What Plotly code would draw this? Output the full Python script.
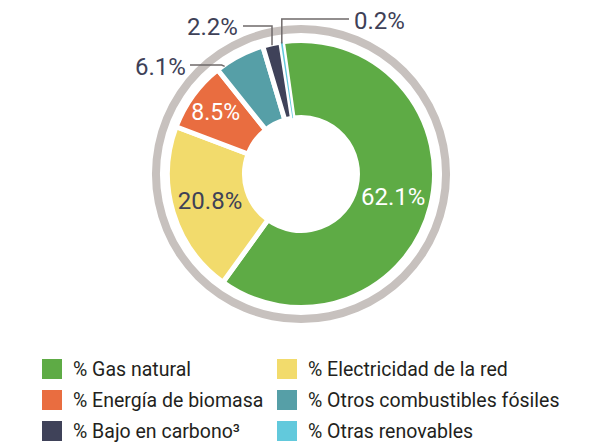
import math
import plotly.graph_objects as go

# ---------------- data ----------------
categories = ["% Gas natural", "% Electricidad de la red", "% Energía de biomasa",
              "% Otros combustibles fósiles", "% Bajo en carbono³", "% Otras renovables"]
shares = [62.1, 20.8, 8.5, 6.1, 2.2, 0.2]
colors = ["#5eab45", "#f2db6c", "#e96d40", "#569fa7", "#3f4259", "#62c9dc"]
inside_label = [True, True, True, False, False, False]
label_font_colors = ["#ffffff", "#3e4157", "#ffffff", "#3e4157", "#3e4157", "#3e4157"]

# ---------------- geometry / style ----------------
W, H = 589, 445
CX, CY = 301, 174
R_SLICE = 133.5
R_RING = 149
ROT = -8
FONT = "Roboto"
DARK = "#3e4157"
LINE_GREY = "#6f6a6a"


def px(x):
    return x / W


def py(y):
    return 1 - y / H


def dom(r):
    return dict(x=[px(CX - r), px(CX + r)], y=[py(CY + r), py(CY - r)])


fig = go.Figure()

# outer grey ring
fig.add_trace(go.Pie(values=[1], hole=141 / 149, sort=False,
                     marker=dict(colors=["#c7c1be"], line=dict(width=0)),
                     textinfo="none", hoverinfo="skip", showlegend=False,
                     domain=dom(R_RING)))

# main donut
fig.add_trace(go.Pie(
    labels=categories, values=shares, hole=0.423, sort=False,
    direction="clockwise", rotation=ROT,
    marker=dict(colors=colors, line=dict(color="#ffffff", width=[5, 5, 5, 5, 5, 0])),
    text=[f"{v}%" if ins else "" for v, ins in zip(shares, inside_label)],
    textinfo="text", textposition="inside", insidetextorientation="horizontal",
    textfont=dict(family=FONT, size=24, color=label_font_colors),
    hoverinfo="label+value", showlegend=False, domain=dom(R_SLICE)))

# ---------------- outside labels with leader lines ----------------
total = sum(shares)
cum = [0]
for v in shares:
    cum.append(cum[-1] + v)


def slice_point(i, r, frac=0.5):
    ang = math.radians(ROT + 360 * (cum[i] + frac * shares[i]) / total)
    return CX + r * math.sin(ang), CY - r * math.cos(ang)


shapes = []
annotations = []

# 6.1%  (index 3)
ex, ey = slice_point(3, 132, 0.15)
annotations.append(dict(x=px(188), y=py(67), xref="paper", yref="paper", text=f"{shares[3]}%",
                        showarrow=False, xanchor="right", yanchor="middle",
                        font=dict(family=FONT, size=24, color=DARK)))
shapes.append(dict(type="path", xref="paper", yref="paper",
                   path=f"M{px(190)},{py(65)} L{px(ex - 3)},{py(65)} L{px(ex)},{py(ey)}",
                   line=dict(color=LINE_GREY, width=1.5)))

# 2.2%  (index 4)
ex, ey = slice_point(4, 132)
annotations.append(dict(x=px(240), y=py(27), xref="paper", yref="paper", text=f"{shares[4]}%",
                        showarrow=False, xanchor="right", yanchor="middle",
                        font=dict(family=FONT, size=24, color=DARK)))
shapes.append(dict(type="path", xref="paper", yref="paper",
                   path=f"M{px(243)},{py(26)} L{px(ex)},{py(26)} L{px(ex)},{py(ey)}",
                   line=dict(color=LINE_GREY, width=1.5)))

# 0.2%  (index 5)
ex, ey = slice_point(5, 132)
annotations.append(dict(x=px(352), y=py(21), xref="paper", yref="paper", text=f"{shares[5]}%",
                        showarrow=False, xanchor="left", yanchor="middle",
                        font=dict(family=FONT, size=24, color=DARK)))
shapes.append(dict(type="path", xref="paper", yref="paper",
                   path=f"M{px(ex)},{py(ey)} L{px(ex)},{py(19)} L{px(349)},{py(19)}",
                   line=dict(color=LINE_GREY, width=1.5)))

# ---------------- custom legend (2 columns) ----------------
for i, (name, col) in enumerate(zip(categories, colors)):
    c, r = i % 2, i // 2
    x0 = 42 + c * 235
    yc = 369 + r * 31
    shapes.append(dict(type="rect", xref="paper", yref="paper",
                       x0=px(x0), x1=px(x0 + 20), y0=py(yc + 10), y1=py(yc - 10),
                       fillcolor=col, line=dict(width=0)))
    annotations.append(dict(x=px(x0 + 29), y=py(yc), xref="paper", yref="paper", text=name,
                            showarrow=False, xanchor="left", yanchor="middle",
                            font=dict(family=FONT, size=19.5, color="#231f20")))

fig.update_layout(width=W, height=H, margin=dict(l=0, r=0, t=0, b=0),
                  paper_bgcolor="#ffffff", plot_bgcolor="#ffffff",
                  shapes=shapes, annotations=annotations, showlegend=False)

fig.write_html("out.html", config={"displayModeBar": False},
               post_script="document.body.style.margin='0';document.body.style.padding='0';")
